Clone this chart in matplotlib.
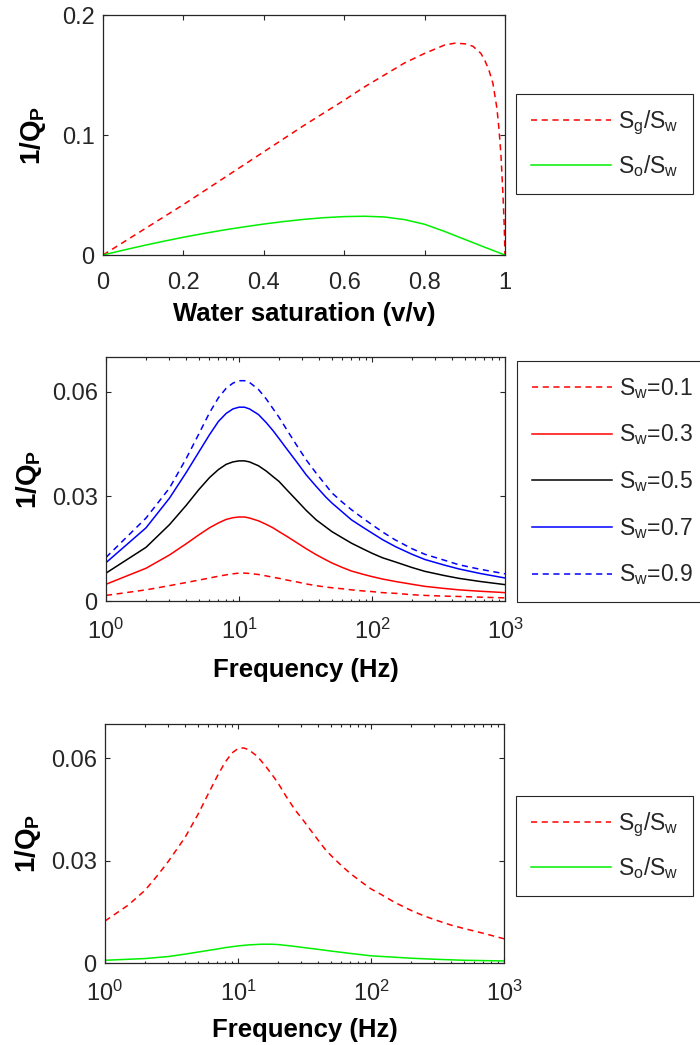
import matplotlib
matplotlib.use("Agg")
import matplotlib.pyplot as plt
from matplotlib.ticker import FixedLocator, LogLocator, NullFormatter

plt.rcParams.update({
    "font.family": ["Liberation Sans", "DejaVu Sans"],
    "mathtext.fontset": "custom",
    "mathtext.rm": "Liberation Sans",
    "mathtext.it": "Liberation Sans:italic",
    "mathtext.bf": "Liberation Sans:bold",
    "axes.linewidth": 0.9,
    "axes.edgecolor": "#262626",
    "xtick.color": "#262626",
    "ytick.color": "#262626",
    "text.color": "#262626",
})

# ---- Panel 1: attenuation versus water saturation ----
sw = [0.0, 0.1, 0.2, 0.3, 0.4, 0.5, 0.6, 0.65, 0.7, 0.75, 0.8, 0.85, 0.875,
      0.9, 0.92, 0.94, 0.95, 0.96, 0.97, 0.98, 0.985, 0.99, 0.995, 0.998, 1.0]
q_gas_sw = [0.0, 0.021, 0.042, 0.064, 0.086, 0.108, 0.129, 0.140, 0.150, 0.160,
            0.168, 0.175, 0.1765, 0.176, 0.174, 0.168, 0.162, 0.154, 0.143, 0.122,
            0.105, 0.083, 0.050, 0.025, 0.0]
sw_oil = [0.0, 0.05, 0.1, 0.15, 0.2, 0.25, 0.3, 0.35, 0.4, 0.45, 0.5, 0.55, 0.6,
          0.65, 0.7, 0.75, 0.8, 0.85, 0.9, 0.95, 1.0]
q_oil_sw = [0.0, 0.0040, 0.0078, 0.0114, 0.0148, 0.0179, 0.0208, 0.0234, 0.0258,
            0.0279, 0.0297, 0.0311, 0.0320, 0.0323, 0.0317, 0.0295, 0.0256, 0.0196,
            0.0130, 0.0064, 0.0]

# ---- Panel 2: attenuation versus frequency for several saturations ----
freq_mid = [1, 2, 3, 4, 5, 6, 7, 8, 9, 10, 11, 12, 14, 16, 18, 20, 23, 27, 32, 38,
            45, 50, 60, 70, 85, 100, 120, 150, 200, 250, 350, 450, 650, 1000]
q_sw01 = [0.0016, 0.0032, 0.0044, 0.0053, 0.0060, 0.0066, 0.0071, 0.0075, 0.0078,
          0.0080, 0.0080, 0.0079, 0.0076, 0.0072, 0.0068, 0.0065, 0.0060, 0.0055,
          0.0049, 0.0044, 0.0040, 0.0038, 0.0035, 0.0032, 0.0029, 0.0027, 0.0024,
          0.0022, 0.0018, 0.0016, 0.0014, 0.0013, 0.0011, 0.0009]
q_sw03 = [0.0048, 0.0094, 0.0132, 0.0164, 0.0190, 0.0210, 0.0224, 0.0234, 0.0239,
          0.0241, 0.0241, 0.0238, 0.0230, 0.0220, 0.0210, 0.0199, 0.0185, 0.0168,
          0.0150, 0.0133, 0.0118, 0.0109, 0.0096, 0.0086, 0.0077, 0.0070, 0.0063,
          0.0056, 0.0048, 0.0042, 0.0036, 0.0032, 0.0028, 0.0024]
q_sw05 = [0.0080, 0.0154, 0.0219, 0.0274, 0.0320, 0.0354, 0.0377, 0.0392, 0.0399,
          0.0402, 0.0402, 0.0399, 0.0388, 0.0373, 0.0357, 0.0343, 0.0318, 0.0290,
          0.0260, 0.0233, 0.0212, 0.0199, 0.0181, 0.0166, 0.0150, 0.0137, 0.0124,
          0.0112, 0.0096, 0.0085, 0.0073, 0.0065, 0.0056, 0.0047]
q_sw07 = [0.0110, 0.0210, 0.0295, 0.0368, 0.0428, 0.0477, 0.0515, 0.0538, 0.0551,
          0.0556, 0.0556, 0.0551, 0.0535, 0.0512, 0.0489, 0.0466, 0.0435, 0.0400,
          0.0362, 0.0329, 0.0298, 0.0281, 0.0255, 0.0233, 0.0212, 0.0195, 0.0176,
          0.0156, 0.0134, 0.0119, 0.0103, 0.0092, 0.0079, 0.0066]
q_sw09 = [0.0125, 0.0238, 0.0324, 0.0408, 0.0480, 0.0540, 0.0583, 0.0610, 0.0625,
          0.0632, 0.0632, 0.0627, 0.0607, 0.0580, 0.0552, 0.0527, 0.0490, 0.0448,
          0.0405, 0.0367, 0.0332, 0.0310, 0.0283, 0.0262, 0.0238, 0.0219, 0.0198,
          0.0175, 0.0150, 0.0134, 0.0117, 0.0104, 0.0091, 0.0078]
sw_labels = ["0.1", "0.3", "0.5", "0.7", "0.9"]

# ---- Panel 3: gas versus oil patches over frequency ----
freq_gas = [1, 1.5, 2, 2.5, 3, 4, 5, 6, 7, 8, 9, 10, 11, 12, 14, 16, 18, 20, 23, 27,
            30, 35, 40, 45, 50, 60, 70, 85, 100, 120, 150, 200, 250, 300, 400, 500,
            700, 1000]
q_gas_f = [0.0123, 0.0170, 0.0213, 0.0258, 0.0298, 0.0368, 0.0435, 0.0497, 0.0548,
           0.0588, 0.0615, 0.0628, 0.0630, 0.0625, 0.0605, 0.0578, 0.0552, 0.0527,
           0.0488, 0.0447, 0.0425, 0.0390, 0.0360, 0.0334, 0.0315, 0.0285, 0.0262,
           0.0237, 0.0217, 0.0200, 0.0178, 0.0154, 0.0138, 0.0127, 0.0111, 0.0101,
           0.0087, 0.0071]
freq_oil = [1, 2, 3, 4, 5, 6, 7, 8, 10, 12, 15, 18, 20, 25, 30, 40, 50, 70, 100,
            150, 200, 300, 500, 1000]
q_oil_f = [0.0008, 0.0013, 0.0019, 0.0026, 0.0032, 0.0037, 0.0041, 0.0045, 0.0050,
           0.0053, 0.0055, 0.0055, 0.0054, 0.0050, 0.0046, 0.0040, 0.0035, 0.0028,
           0.0021, 0.0017, 0.0014, 0.0011, 0.0008, 0.0006]

RED, GREEN, BLUE, BLACK = "#FF0000", "#00F000", "#0000FF", "#000000"
LW = 1.1
DASH = (0, (4, 3))

W, H = 700, 1045
fig = plt.figure(figsize=(W / 100, H / 100), dpi=100)


def add_axes_px(left, top, right, bottom):
    return fig.add_axes([left / W, 1 - bottom / H, (right - left) / W, (bottom - top) / H])


def style_axes(ax):
    ax.tick_params(which="both", direction="in", top=True, right=True, labelsize=17)
    ax.tick_params(which="major", length=3.6, width=0.8)
    ax.tick_params(which="minor", length=1.8, width=0.8)
    ax.tick_params(axis="x", pad=12.5)
    ax.tick_params(axis="y", pad=6)


def ylabel(ax, x):
    ax.set_ylabel(r"$\mathbf{1/Q_P}$", fontsize=20)
    ax.yaxis.set_label_coords(x, 0.5)


def legend(ax, left, top, **kw):
    leg = ax.legend(loc="upper left", bbox_to_anchor=(left / W, 1 - top / H),
                    bbox_transform=fig.transFigure, borderaxespad=0, fontsize=16.5,
                    handlelength=3.5, handletextpad=0.3, borderpad=0.65,
                    fancybox=False, edgecolor="#262626", framealpha=1, **kw)
    leg.get_frame().set_linewidth(0.8)
    return leg


# Panel 1
ax1 = add_axes_px(103, 15, 505, 255)
ax1.plot(sw, q_gas_sw, color=RED, lw=LW, linestyle=DASH, label=r"$\mathrm{S_g/S_w}$")
ax1.plot(sw_oil, q_oil_sw, color=GREEN, lw=LW, label=r"$\mathrm{S_o/S_w}$")
ax1.set_xlim(0, 1)
ax1.set_ylim(0, 0.2)
ax1.xaxis.set_major_locator(FixedLocator([0, 0.2, 0.4, 0.6, 0.8, 1.0]))
ax1.set_xticklabels(["0", "0.2", "0.4", "0.6", "0.8", "1"])
ax1.yaxis.set_major_locator(FixedLocator([0, 0.1, 0.2]))
ax1.set_yticklabels(["0", "0.1", "0.2"])
style_axes(ax1)
ax1.set_xlabel("Water saturation (v/v)", fontsize=18.5, fontweight="bold")
ax1.xaxis.set_label_coords(0.5, -0.195)
ylabel(ax1, -0.136)
legend(ax1, 516, 94, labelspacing=0.7)


def log_axis(ax):
    ax.set_xscale("log")
    ax.set_xlim(1, 1000)
    ax.set_ylim(0, 0.07)
    ax.xaxis.set_major_locator(LogLocator(base=10, numticks=10))
    ax.xaxis.set_minor_locator(LogLocator(base=10, subs=range(2, 10), numticks=20))
    ax.xaxis.set_minor_formatter(NullFormatter())
    ax.yaxis.set_major_locator(FixedLocator([0, 0.03, 0.06]))
    ax.set_yticklabels(["0", "0.03", "0.06"])
    style_axes(ax)
    ax.set_xlabel("Frequency (Hz)", fontsize=18.5, fontweight="bold")
    ax.xaxis.set_label_coords(0.5, -0.232)


# Panel 2
ax2 = add_axes_px(106, 357, 505, 601)
series = [q_sw01, q_sw03, q_sw05, q_sw07, q_sw09]
styles = [(RED, DASH), (RED, "-"), (BLACK, "-"), (BLUE, "-"), (BLUE, DASH)]
for vals, (c, ls), lab in zip(series, styles, sw_labels):
    ax2.plot(freq_mid, vals, color=c, lw=LW, linestyle=ls,
             label=r"$\mathrm{S_w}$=" + lab)
log_axis(ax2)
ylabel(ax2, -0.155)
legend(ax2, 517, 361, labelspacing=0.95)

# Panel 3
ax3 = add_axes_px(105, 724, 504, 963)
ax3.plot(freq_gas, q_gas_f, color=RED, lw=LW, linestyle=DASH, label=r"$\mathrm{S_g/S_w}$")
ax3.plot(freq_oil, q_oil_f, color=GREEN, lw=LW, label=r"$\mathrm{S_o/S_w}$")
log_axis(ax3)
ylabel(ax3, -0.155)
legend(ax3, 516, 796, labelspacing=0.7)

fig.savefig("out.png", dpi=100)
